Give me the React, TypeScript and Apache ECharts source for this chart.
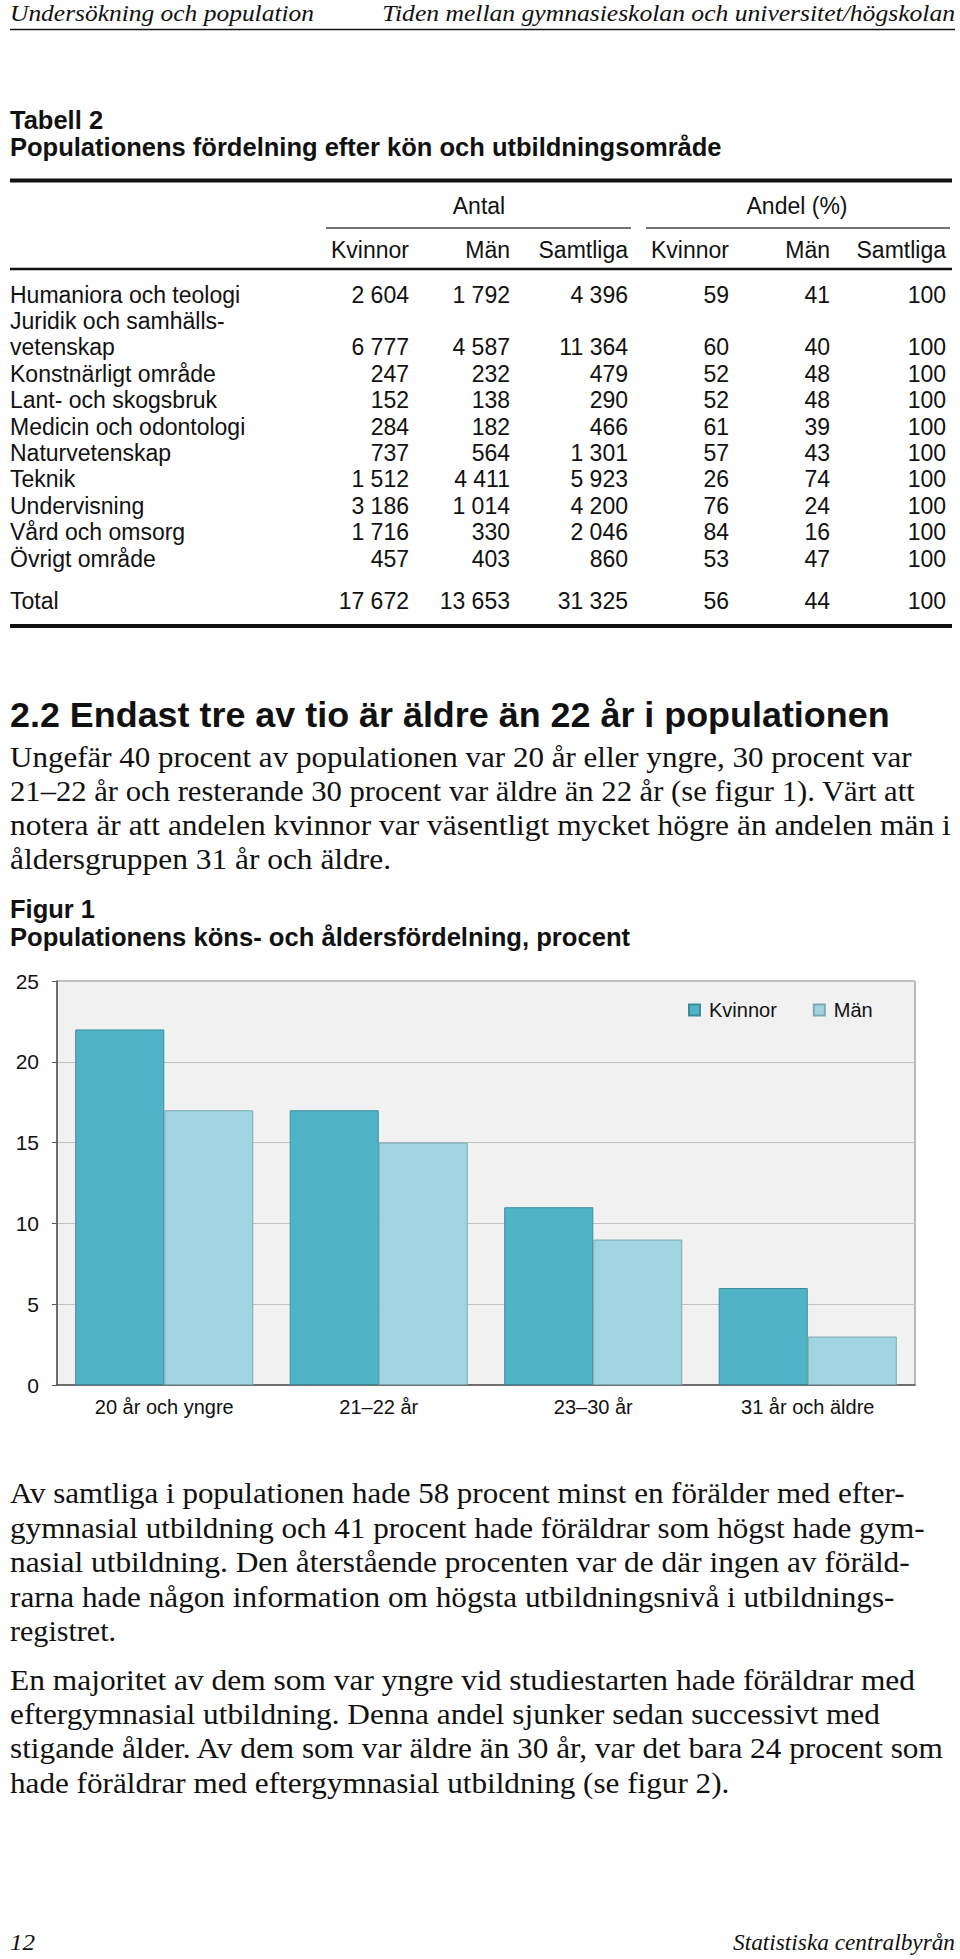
import React, { useEffect, useRef } from "react";
import * as echarts from "echarts";

// ---------- DATA ----------
const headerLeft = "Undersökning och population";
const headerRight = "Tiden mellan gymnasieskolan och universitet/högskolan";
const tableLabel = "Tabell 2";
const tableTitle = "Populationens fördelning efter kön och utbildningsområde";
const groupHeaders = ["Antal", "Andel (%)"];
const columnHeaders = ["Kvinnor", "Män", "Samtliga", "Kvinnor", "Män", "Samtliga"];

const areas = [
  ["Humaniora och teologi"],
  ["Juridik och samhälls-", "vetenskap"],
  ["Konstnärligt område"],
  ["Lant- och skogsbruk"],
  ["Medicin och odontologi"],
  ["Naturvetenskap"],
  ["Teknik"],
  ["Undervisning"],
  ["Vård och omsorg"],
  ["Övrigt område"],
];
const antalKvinnor = [2604, 6777, 247, 152, 284, 737, 1512, 3186, 1716, 457];
const antalMan = [1792, 4587, 232, 138, 182, 564, 4411, 1014, 330, 403];
const antalSamtliga = [4396, 11364, 479, 290, 466, 1301, 5923, 4200, 2046, 860];
const andelKvinnor = [59, 60, 52, 52, 61, 57, 26, 76, 84, 53];
const andelMan = [41, 40, 48, 48, 39, 43, 74, 24, 16, 47];
const andelSamtliga = [100, 100, 100, 100, 100, 100, 100, 100, 100, 100];
const totalLabel = "Total";
const totalRow = [17672, 13653, 31325, 56, 44, 100];

const sectionHeading = "2.2 Endast tre av tio är äldre än 22 år i populationen";
const para1 = [
  "Ungefär 40 procent av populationen var 20 år eller yngre, 30 procent var",
  "21–22 år och resterande 30 procent var äldre än 22 år (se figur 1). Värt att",
  "notera är att andelen kvinnor var väsentligt mycket högre än andelen män i",
  "åldersgruppen 31 år och äldre.",
];
const figureLabel = "Figur 1";
const figureTitle = "Populationens köns- och åldersfördelning, procent";

const ageGroups = ["20 år och yngre", "21–22 år", "23–30 år", "31 år och äldre"];
const kvinnorPct = [22, 17, 11, 6];
const manPct = [17, 15, 9, 3];
const seriesNames = ["Kvinnor", "Män"];

const para2 = [
  "Av samtliga i populationen hade 58 procent minst en förälder med efter-",
  "gymnasial utbildning och 41 procent hade föräldrar som högst hade gym-",
  "nasial utbildning. Den återstående procenten var de där ingen av föräld-",
  "rarna hade någon information om högsta utbildningsnivå i utbildnings-",
  "registret.",
];
const para3 = [
  "En majoritet av dem som var yngre vid studiestarten hade föräldrar med",
  "eftergymnasial utbildning. Denna andel sjunker sedan successivt med",
  "stigande ålder. Av dem som var äldre än 30 år, var det bara 24 procent som",
  "hade föräldrar med eftergymnasial utbildning (se figur 2).",
];
const footerLeft = "12";
const footerRight = "Statistiska centralbyrån";

// ---------- LAYOUT / STYLE ----------
const W = 960;
const H = 1959;
const SANS = "Liberation Sans";
const SERIF = "Liberation Serif";
const INK = "#111";

type FontSpec = { family: string; size: number; weight?: string; style?: string };

let measureCtx: CanvasRenderingContext2D | null = null;
function cssFont(f: FontSpec): string {
  return `${f.style || "normal"} ${f.weight || "normal"} ${f.size}px "${f.family}"`;
}
function textWidth(text: string, f: FontSpec): number {
  if (!measureCtx) {
    const c = document.createElement("canvas");
    measureCtx = c.getContext("2d");
  }
  if (!measureCtx) return 0;
  measureCtx.font = cssFont(f);
  return measureCtx.measureText(text).width;
}

function txt(text: string, f: FontSpec, x: number, y: number, align = "left", fill = INK): any {
  return {
    type: "text",
    x,
    y,
    silent: true,
    style: {
      text,
      fontFamily: f.family,
      fontSize: f.size,
      fontWeight: f.weight || "normal",
      fontStyle: f.style || "normal",
      fill,
      textAlign: align,
      textVerticalAlign: "middle",
    },
  };
}

function fit(text: string, f: FontSpec, x: number, y: number, targetW: number, align = "left", fill = INK): any {
  const w = textWidth(text, f);
  const s = w > 0 ? Math.min(1.35, Math.max(0.75, targetW / w)) : 1;
  const e = txt(text, f, x, y, align, fill);
  e.scaleX = s;
  return e;
}

function hline(x1: number, x2: number, y: number, lw: number, color = "#111"): any {
  return {
    type: "line",
    silent: true,
    shape: { x1, y1: y, x2, y2: y },
    style: { stroke: color, lineWidth: lw },
  };
}

function fmt(n: number): string {
  return String(n).replace(/\B(?=(\d{3})+(?!\d))/g, " ");
}

function buildGraphic(): any[] {
  const g: any[] = [];
  // page header
  const hFont: FontSpec = { family: SERIF, size: 24, style: "italic" };
  g.push(fit(headerLeft, hFont, 10, 13, 304));
  g.push(fit(headerRight, hFont, 955, 13, 573, "right"));
  g.push(hline(10, 955, 29.5, 1.5));

  // table titles
  const tFont: FontSpec = { family: SANS, size: 25.5, weight: "bold" };
  g.push(txt(tableLabel, tFont, 10, 120));
  g.push(fit(tableTitle, tFont, 10, 147.5, 712));

  // table rules
  g.push(hline(10, 952, 180.5, 4));
  g.push(hline(326, 631, 228, 1.5, "#444"));
  g.push(hline(646, 950, 228, 1.5, "#444"));
  g.push(hline(10, 952, 269, 2.5));
  g.push(hline(10, 952, 626, 4));

  const cFont: FontSpec = { family: SANS, size: 23 };
  const colRight = [409, 510, 628, 729, 830, 946];
  g.push(txt(groupHeaders[0], cFont, 479, 206, "center"));
  g.push(txt(groupHeaders[1], cFont, 797, 206, "center"));
  columnHeaders.forEach((h, i) => g.push(txt(h, cFont, colRight[i], 250, "right")));

  const rowY = [295, 347, 374, 400, 427, 453, 479, 506, 532, 559];
  areas.forEach((lines, r) => {
    const y = rowY[r];
    if (lines.length === 2) {
      g.push(txt(lines[0], cFont, 10, y - 26));
      g.push(txt(lines[1], cFont, 10, y));
    } else {
      g.push(txt(lines[0], cFont, 10, y));
    }
    const vals = [
      fmt(antalKvinnor[r]),
      fmt(antalMan[r]),
      fmt(antalSamtliga[r]),
      String(andelKvinnor[r]),
      String(andelMan[r]),
      String(andelSamtliga[r]),
    ];
    vals.forEach((v, i) => g.push(txt(v, cFont, colRight[i], y, "right")));
  });
  g.push(txt(totalLabel, cFont, 10, 601));
  totalRow.forEach((v, i) => g.push(txt(fmt(v), cFont, colRight[i], 601, "right")));

  // section heading
  const headFont: FontSpec = { family: SANS, size: 35, weight: "bold" };
  g.push(fit(sectionHeading, headFont, 10, 715, 880));

  const bFont: FontSpec = { family: SERIF, size: 29 };
  const p1Y = [757, 791, 825, 859];
  const p1End = [912, 916, 951, 391];
  para1.forEach((l, i) => g.push(fit(l, bFont, 10, p1Y[i], p1End[i] - 10)));

  g.push(txt(figureLabel, tFont, 10, 909));
  g.push(fit(figureTitle, tFont, 10, 937.5, 620));

  const p2Y = [1493, 1528, 1562, 1597, 1631];
  const p2End = [905, 925, 910, 895, 116];
  para2.forEach((l, i) => g.push(fit(l, bFont, 10, p2Y[i], p2End[i] - 10)));

  const p3Y = [1680, 1714, 1748, 1783];
  const p3End = [915, 880, 945, 730];
  para3.forEach((l, i) => g.push(fit(l, bFont, 10, p3Y[i], p3End[i] - 10)));

  // footer
  g.push(fit(footerLeft, hFont, 10, 1942, 25));
  g.push(fit(footerRight, hFont, 955, 1942, 222, "right"));
  return g;
}

function buildOption(): any {
  return {
    animation: false,
    backgroundColor: "#ffffff",
    graphic: { elements: buildGraphic() },
    legend: {
      left: 683,
      top: 995,
      itemWidth: 11,
      itemHeight: 11,
      itemGap: 36,
      icon: "rect",
      selectedMode: false,
      data: seriesNames,
      textStyle: { fontSize: 20, fontFamily: SANS, color: INK, padding: [0, 0, 0, 4] },
    },
    grid: {
      left: 57,
      top: 981,
      width: 858,
      height: 404,
      show: true,
      backgroundColor: "#f1f1f1",
      borderColor: "#7a7a7a",
      borderWidth: 1,
    },
    xAxis: {
      type: "category",
      data: ageGroups,
      axisTick: { show: false },
      axisLine: { show: true, lineStyle: { color: "#555", width: 1.5 } },
      axisLabel: { fontSize: 20, fontFamily: SANS, color: INK, margin: 12, interval: 0 },
    },
    yAxis: {
      type: "value",
      min: 0,
      max: 25,
      interval: 5,
      axisLine: { show: true, lineStyle: { color: "#555", width: 1.5 } },
      axisTick: { show: true, length: 5, lineStyle: { color: "#555" } },
      axisLabel: { fontSize: 21, fontFamily: SANS, color: INK, margin: 18 },
      splitLine: { show: true, lineStyle: { color: "#c2c2c2", width: 1 } },
    },
    series: [
      {
        name: seriesNames[0],
        type: "bar",
        data: kvinnorPct,
        barGap: "0%",
        barCategoryGap: "17%",
        itemStyle: { color: "#50b3c7", borderColor: "#3d8c9b", borderWidth: 1 },
      },
      {
        name: seriesNames[1],
        type: "bar",
        data: manPct,
        barGap: "0%",
        barCategoryGap: "17%",
        itemStyle: { color: "#9fd4e0", borderColor: "#7ea9b2", borderWidth: 1 },
      },
    ],
  };
}

export default function App() {
  const ref = useRef<HTMLDivElement>(null);
  useEffect(() => {
    const el = ref.current;
    if (!el) return;
    const chart = echarts.init(el, null, { renderer: "svg", width: W, height: H });
    chart.setOption(buildOption());
    return () => {
      chart.dispose();
    };
  }, []);
  return (
    <div
      ref={ref}
      style={{ position: "absolute", left: 0, top: 0, width: W, height: H, background: "#fff" }}
    />
  );
}
